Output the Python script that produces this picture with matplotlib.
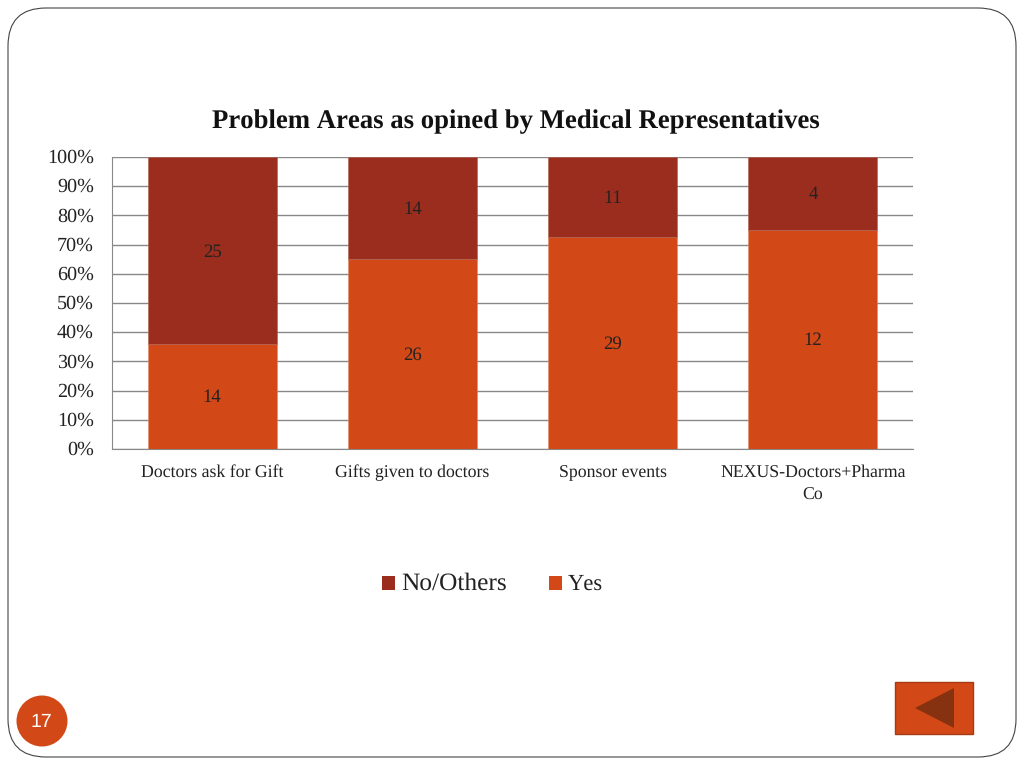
"""Problem areas chart, 100% stacked bars with counts as labels."""

import matplotlib

matplotlib.use("Agg")
import matplotlib.pyplot as plt
from matplotlib.patches import Circle, FancyBboxPatch, Polygon, Rectangle
from matplotlib.transforms import ScaledTranslation
import numpy as np

categories = ["Doctors ask for Gift", "Gifts given to doctors", "Sponsor events", "NEXUS-Doctors+Pharma\nCo"]
yes_counts = [14, 26, 29, 12]
no_counts = [25, 14, 11, 4]
title = "Problem Areas as opined by Medical Representatives"

W, H = 1024, 768
YES_COLOR = "#D34817"
NO_COLOR = "#9B2D1F"
TEXT = "#222222"

plt.rcParams["font.family"] = ["Liberation Serif", "DejaVu Serif"]
plt.rcParams["text.hinting"] = "none"
plt.rcParams["text.kerning_factor"] = 6

fig = plt.figure(figsize=(W / 100, H / 100), dpi=100)

# full-figure layer in pixel coords for the slide furniture
bg = fig.add_axes([0, 0, 1, 1])
bg.set_xlim(0, W)
bg.set_ylim(H, 0)
bg.axis("off")
bg.add_patch(FancyBboxPatch((8, 8), 1008, 749, boxstyle="round,pad=0,rounding_size=38",
                            fc="white", ec="#444444", lw=0.8))
bg.add_patch(Circle((42, 721), 25.5, fc=YES_COLOR, ec="none"))
bg.text(41.5, 722.5, "17", color="white", fontsize=14, ha="center", va="center", family="Liberation Sans")
bg.add_patch(Rectangle((895, 682), 78, 52, fc=YES_COLOR, ec="#A63A14", lw=1))
bg.add_patch(Polygon([[915, 708], [954, 688], [954, 728]], closed=True, fc="#86310F", ec="none"))
bg.text(516, 122, title, fontsize=19.3, fontweight="bold", color="#111111", ha="center", va="center")

ax = fig.add_axes([112 / W, 1 - 449 / H, (913 - 112) / W, (449 - 157) / H])
ax.patch.set_alpha(0)

yes = np.array(yes_counts, dtype=float)
no = np.array(no_counts, dtype=float)
total = yes + no
yes_pct = yes / total * 100
no_pct = no / total * 100
xs = np.arange(len(categories))

ax.bar(xs, yes_pct, width=0.644, color=YES_COLOR, edgecolor="#E08A66", linewidth=0.4, zorder=3)
ax.bar(xs, no_pct, width=0.644, bottom=yes_pct, color=NO_COLOR, edgecolor="#B0604F", linewidth=0.4, zorder=3)

for x, yp, np_, y_n, n_n in zip(xs, yes_pct, no_pct, yes_counts, no_counts):
    ax.text(x, yp / 2 - 0.4, str(y_n), ha="center", va="center", fontsize=13.5, color=TEXT, zorder=4)
    ax.text(x, yp + np_ / 2 - 0.4, str(n_n), ha="center", va="center", fontsize=13.5, color=TEXT, zorder=4)

ax.set_xlim(-0.5, len(categories) - 0.5)
ax.set_ylim(0, 100)
ax.set_yticks(np.arange(0, 101, 10))
ax.set_yticklabels([f"{v}%" for v in range(0, 101, 10)], fontsize=14.5, color=TEXT, va="center_baseline")
ax.set_xticks(xs)
ax.set_xticklabels(categories, fontsize=12.8, color=TEXT, linespacing=1.55)
ax.tick_params(axis="y", length=0, pad=13)
ax.tick_params(axis="x", length=0, pad=11)
ax.grid(True, axis="y", color="#888888", lw=1, zorder=1)
ax.set_axisbelow(True)
for side in ("top", "right"):
    ax.spines[side].set_visible(False)
for side in ("left", "bottom"):
    ax.spines[side].set_color("#888888")

# y labels sit about a pixel above the gridlines
shift = ScaledTranslation(0, 1 / 100, fig.dpi_scale_trans)
for lab in ax.get_yticklabels():
    lab.set_transform(lab.get_transform() + shift)

# legend
bg.add_patch(Rectangle((382, 576), 13, 14, fc=NO_COLOR, ec="none"))
bg.text(401, 584, "No/Others", fontsize=18.3, color=TEXT, ha="left", va="center")
bg.add_patch(Rectangle((549, 576), 13, 14, fc=YES_COLOR, ec="none"))
bg.text(568, 584, "Yes", fontsize=16.3, color=TEXT, ha="left", va="center")

fig.savefig("out.png", dpi=100)
plt.close(fig)
